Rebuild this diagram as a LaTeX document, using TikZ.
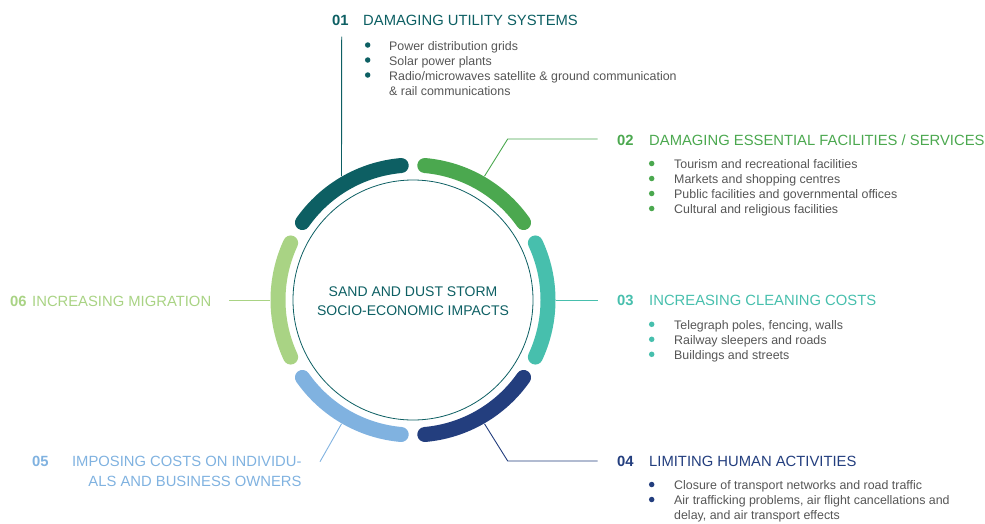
\documentclass[tikz,border=0pt]{standalone}
\usepackage{fontspec}
\setmainfont{Liberation Sans}
\usetikzlibrary{calc}
\definecolor{cA}{HTML}{0D5F63}
\definecolor{cB}{HTML}{4BA84F}
\definecolor{cC}{HTML}{47BFAD}
\definecolor{cD}{HTML}{233E7E}
\definecolor{cE}{HTML}{80B2E0}
\definecolor{cF}{HTML}{A9D384}
\definecolor{txt}{HTML}{555555}
\begin{document}
\begin{tikzpicture}[x=1pt,y=-1pt,
  seg/.style={line width=15pt, line cap=round},
  link/.style={line width=0.9pt},
  num/.style={font=\fontsize{14.8}{18}\selectfont\bfseries, inner sep=0, anchor=base west},
  ttl/.style={font=\fontsize{14.8}{18}\selectfont, inner sep=0, anchor=base west},
  itm/.style={font=\fontsize{12.4}{15}\selectfont, text=txt, inner sep=0, anchor=base west},
  dotm/.style={circle, inner sep=0, minimum size=5.5pt}
]
\useasboundingbox (0,0) rectangle (985,523);
\coordinate (o) at (413,300);

% ring segments
\draw[seg, cA, shift={(o)}] (95:135pt) arc[start angle=95, end angle=145, radius=135pt];
\draw[seg, cB, shift={(o)}] (35:135pt) arc[start angle=35, end angle=85, radius=135pt];
\draw[seg, cC, shift={(o)}] (-25:135pt) arc[start angle=-25, end angle=25, radius=135pt];
\draw[seg, cD, shift={(o)}] (-85:135pt) arc[start angle=-85, end angle=-35, radius=135pt];
\draw[seg, cE, shift={(o)}] (-145:135pt) arc[start angle=-145, end angle=-95, radius=135pt];
\draw[seg, cF, shift={(o)}] (155:135pt) arc[start angle=155, end angle=205, radius=135pt];

% hub
\node[circle, draw=cA, line width=0.8pt, minimum size=240pt, inner sep=0] (hub) at (o) {};
\node[font=\fontsize{14}{19}\selectfont, text=cA, align=center, inner sep=0] (hubtxt) at (413,301.5)
  {SAND AND DUST STORM\\SOCIO-ECONOMIC IMPACTS};

% anchor points on ring
\coordinate (p1) at ($(o)+(120:143pt)$);
\coordinate (p2) at ($(o)+(60:143pt)$);
\coordinate (p3) at ($(o)+(0:143pt)$);
\coordinate (p4) at ($(o)+(-60:143pt)$);
\coordinate (p5) at ($(o)+(-120:143pt)$);
\coordinate (p6) at ($(o)+(180:143pt)$);

% 01
\node[num, text=cA] (n1) at (332,25) {01};
\node[ttl, text=cA] (t1) at (363,25) {DAMAGING UTILITY SYSTEMS};
\node[dotm, fill=cA] (d11) at (367.7,45) {};
\node[dotm, fill=cA] (d12) at (367.7,60) {};
\node[dotm, fill=cA] (d13) at (367.7,75) {};
\node[itm] (i11) at (389,50) {Power distribution grids};
\node[itm] (i12) at (389,65) {Solar power plants};
\node[itm] (i13) at (389,80) {Radio/microwaves satellite \& ground communication};
\node[itm] (i14) at (389,95) {\& rail communications};
\coordinate (q1) at (341.7,36.7);
\draw[link, cA] (p1) -- (q1);

% 02
\node[num, text=cB] (n2) at (617,145) {02};
\node[ttl, text=cB] (t2) at (649,145) {DAMAGING ESSENTIAL FACILITIES / SERVICES};
\node[dotm, fill=cB] (d21) at (651.7,163.5) {};
\node[dotm, fill=cB] (d22) at (651.7,178.5) {};
\node[dotm, fill=cB] (d23) at (651.7,193.5) {};
\node[dotm, fill=cB] (d24) at (651.7,208.5) {};
\node[itm] (i21) at (674,168.5) {Tourism and recreational facilities};
\node[itm] (i22) at (674,183.5) {Markets and shopping centres};
\node[itm] (i23) at (674,198.5) {Public facilities and governmental offices};
\node[itm] (i24) at (674,213.5) {Cultural and religious facilities};
\coordinate (k2) at (507.7,139);
\coordinate (q2) at (597.7,139);
\draw[link, cB] (p2) -- (k2) -- (q2);

% 03
\node[num, text=cC] (n3) at (617,305.7) {03};
\node[ttl, text=cC] (t3) at (649,305.7) {INCREASING CLEANING COSTS};
\node[dotm, fill=cC] (d31) at (651.7,324.3) {};
\node[dotm, fill=cC] (d32) at (651.7,339.3) {};
\node[dotm, fill=cC] (d33) at (651.7,354.3) {};
\node[itm] (i31) at (674,329.3) {Telegraph poles, fencing, walls};
\node[itm] (i32) at (674,344.3) {Railway sleepers and roads};
\node[itm] (i33) at (674,359.3) {Buildings and streets};
\coordinate (q3) at (598,300);
\draw[link, cC] (p3) -- (q3);

% 04
\node[num, text=cD] (n4) at (617,466) {04};
\node[ttl, text=cD] (t4) at (649,466) {LIMITING HUMAN ACTIVITIES};
\node[dotm, fill=cD] (d41) at (651.7,484.5) {};
\node[dotm, fill=cD] (d42) at (651.7,499.5) {};
\node[itm] (i41) at (674,489.5) {Closure of transport networks and road traffic};
\node[itm] (i42) at (674,504.5) {Air trafficking problems, air flight cancellations and};
\node[itm] (i43) at (674,519.5) {delay, and air transport effects};
\coordinate (k4) at (507.7,461);
\coordinate (q4) at (597.7,461);
\draw[link, cD] (p4) -- (k4) -- (q4);

% 05
\node[num, text=cE] (n5) at (32,466.5) {05};
\node[ttl, text=cE, anchor=base east] (t5a) at (301.7,466.5) {IMPOSING COSTS ON INDIVIDU-};
\node[ttl, text=cE, anchor=base east] (t5b) at (301.7,486.5) {ALS AND BUSINESS OWNERS};
\coordinate (q5) at (320,461.7);
\draw[link, cE] (p5) -- (q5);

% 06
\node[num, text=cF] (n6) at (10,306) {06};
\node[ttl, text=cF] (t6) at (32,306) {INCREASING MIGRATION};
\coordinate (q6) at (229.3,300);
\draw[link, cF] (q6) -- (p6);
\end{tikzpicture}
\end{document}
